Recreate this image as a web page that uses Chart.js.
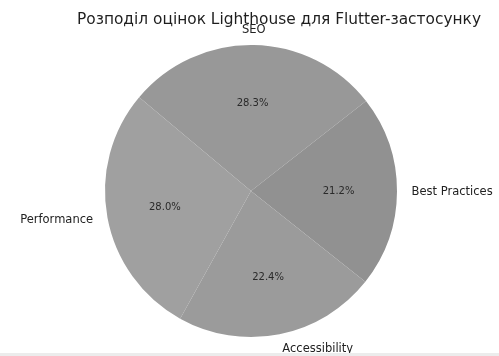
<!DOCTYPE html>
<html>
<head>
<meta charset="utf-8">
<script src="https://cdn.jsdelivr.net/npm/chart.js@4"></script>
<style>
  html, body { margin: 0; padding: 0; background: #fff; }
  #wrap { width: 499px; height: 356px; }
</style>
</head>
<body>
<div id="wrap"><canvas id="pieChart" width="499" height="356"></canvas></div>
<script>
// Lighthouse scores, listed clockwise from the SEO/Performance edge
const labels = ['SEO', 'Best Practices', 'Accessibility', 'Performance'];
const scores = [100, 75, 79, 99];
const sliceColors = ['#989898', '#919191', '#9b9b9b', '#a0a0a0'];
const titleText = 'Розподіл оцінок Lighthouse для Flutter-застосунку';

const FONT = '"DejaVu Sans", Verdana, sans-serif';

// Plugin: title, outer category labels and inner percentages (matplotlib style)
const pieLabels = {
    id: 'pieLabels',
    afterDatasetsDraw(chart) {
        const { ctx } = chart;
        const meta = chart.getDatasetMeta(0);
        const total = scores.reduce((a, b) => a + b, 0);
        ctx.save();
        meta.data.forEach((arc, i) => {
            const mid = (arc.startAngle + arc.endAngle) / 2;
            const r = arc.outerRadius;
            const cos = Math.cos(mid), sin = Math.sin(mid);
            // percentage
            ctx.font = '10px ' + FONT;
            ctx.fillStyle = '#2a2a2a';
            ctx.textAlign = 'center';
            ctx.textBaseline = 'middle';
            const pct = (scores[i] / total * 100).toFixed(1) + '%';
            ctx.fillText(pct, arc.x + 0.6 * r * cos, arc.y + 0.6 * r * sin);
            // category label
            ctx.font = '11.5px ' + FONT;
            ctx.fillStyle = '#222';
            ctx.textAlign = Math.abs(cos) < 0.05 ? 'center' : (cos > 0 ? 'left' : 'right');
            ctx.fillText(labels[i], arc.x + 1.1 * r * cos, arc.y + 1.1 * r * sin);
        });
        // title
        ctx.font = '15.4px ' + FONT;
        ctx.fillStyle = '#1e1e1e';
        ctx.textAlign = 'center';
        ctx.textBaseline = 'middle';
        ctx.fillText(titleText, 279, 20);
        // faint strip at bottom edge
        ctx.fillStyle = '#ececec';
        ctx.fillRect(0, 353, chart.width, 3);
        ctx.restore();
    }
};

new Chart(document.getElementById('pieChart').getContext('2d'), {
    type: 'pie',
    data: {
        labels,
        datasets: [{
            data: scores,
            backgroundColor: sliceColors,
            borderWidth: 0
        }]
    },
    options: {
        responsive: false,
        animation: false,
        rotation: -50,
        layout: { padding: { left: 105, right: 102, top: 45, bottom: 19 } },
        plugins: {
            legend: { display: false },
            tooltip: { enabled: false },
            title: { display: false }
        }
    },
    plugins: [pieLabels]
});
</script>
</body>
</html>
